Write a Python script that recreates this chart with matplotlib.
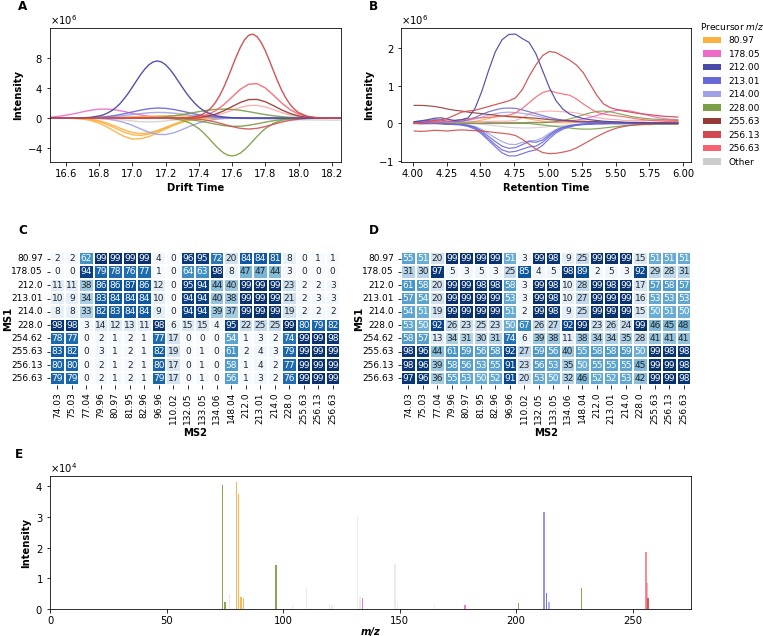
import numpy as np
import matplotlib
matplotlib.use("Agg")
import matplotlib.pyplot as plt
from matplotlib.patches import Patch
import seaborn as sns

# ---------------- data ----------------
precursors = ["80.97", "178.05", "212.00", "213.01", "214.00", "228.00",
              "255.63", "256.13", "256.63", "Other"]
colors = {"80.97": "#fbb040", "178.05": "#ee6cc8", "212.00": "#4a4aa6",
          "213.01": "#6868d8", "214.00": "#a0a0e6", "228.00": "#7a9e45",
          "255.63": "#963a36", "256.13": "#cf4a4e", "256.63": "#f7646f",
          "Other": "#cccccc"}

# Panel A: drift time traces (intensity in 1e6)
A_x = [16.50, 16.55, 16.60, 16.65, 16.70, 16.75, 16.80, 16.85, 16.90, 16.95,
       17.00, 17.05, 17.10, 17.15, 17.20, 17.25, 17.30, 17.35, 17.40, 17.45,
       17.50, 17.55, 17.60, 17.65, 17.70, 17.75, 17.80, 17.85, 17.90, 17.95,
       18.00, 18.05, 18.10, 18.15, 18.20, 18.25]
a_212_x = [16.50, 16.55, 16.60, 16.65, 16.70, 16.75, 16.80, 16.825, 16.85, 16.875, 16.90, 16.925, 16.95,
           16.975, 17.00, 17.025, 17.05, 17.075, 17.10, 17.125, 17.15, 17.175, 17.20, 17.225, 17.25,
           17.275, 17.30, 17.325, 17.35, 17.375, 17.40, 17.425, 17.45, 17.50, 17.55, 17.60, 17.65, 17.70,
           18.25]
a_212 = [0, 0, 0, 0.01, 0.03, 0.10, 0.28, 0.42, 0.66, 0.95, 1.38, 1.88, 2.54, 3.26, 4.08, 4.92, 5.75, 6.47,
         7.05, 7.42, 7.55, 7.42, 7.05, 6.47, 5.75, 4.92, 4.10, 3.30, 2.60, 1.97, 1.45, 1.04, 0.72, 0.32,
         0.13, 0.05, 0.02, 0, 0]
a_25613_x = [16.50, 17.20, 17.25, 17.30, 17.325, 17.35, 17.375, 17.40, 17.425, 17.45, 17.475, 17.50,
             17.525, 17.55, 17.575, 17.60, 17.625, 17.65, 17.675, 17.70, 17.725, 17.75, 17.775, 17.80,
             17.825, 17.85, 17.875, 17.90, 17.925, 17.95, 17.975, 18.00, 18.05, 18.10, 18.15, 18.20, 18.25]
a_25613 = [0, 0, 0.01, 0.02, 0.05, 0.10, 0.18, 0.32, 0.54, 0.88, 1.38, 2.07, 2.96, 4.07, 5.35, 6.73, 8.12,
           9.36, 10.35, 10.95, 11.10, 10.76, 9.99, 8.89, 7.57, 6.17, 4.82, 3.60, 2.58, 1.77, 1.16, 0.73,
           0.25, 0.07, 0.02, 0, 0]
a_228n_x = [16.50, 17.10, 17.15, 17.20, 17.25, 17.30, 17.35, 17.40, 17.425, 17.45, 17.475, 17.50, 17.525,
            17.55, 17.575, 17.60, 17.625, 17.65, 17.675, 17.70, 17.725, 17.75, 17.775, 17.80, 17.85, 17.90,
            17.95, 18.00, 18.05, 18.10, 18.25]
a_228n = [0, 0, -0.01, -0.03, -0.10, -0.28, -0.68, -1.39, -1.88, -2.43, -3.03, -3.63, -4.18, -4.62, -4.90,
          -5.00, -4.90, -4.62, -4.18, -3.63, -3.03, -2.43, -1.88, -1.39, -0.68, -0.28, -0.10, -0.03, -0.01,
          0, 0]
a_25663 = [0, 0, 0, 0, 0, 0, 0, 0, 0, 0, 0, 0, 0, 0, 0, 0, 0.02, 0.07, 0.18, 0.45, 0.96, 1.76, 2.79, 3.81,
           4.48, 4.55, 3.98, 3.00, 1.96, 1.10, 0.53, 0.22, 0.08, 0.02, 0, 0]
a_25563 = [0, 0, 0, 0, 0, 0, 0, 0, 0, 0, 0, 0, 0, 0, 0, 0, 0.01, 0.04, 0.10, 0.25, 0.52, 0.96, 1.52, 2.07,
           2.44, 2.47, 2.16, 1.63, 1.06, 0.60, 0.29, 0.12, 0.04, 0.01, 0, 0]
a_25663b = [0, 0, 0, 0, 0, 0, 0, 0, 0, 0, 0, 0, 0, 0, 0, 0, 0.01, 0.02, 0.07, 0.17, 0.36, 0.65, 1.03, 1.41,
            1.66, 1.68, 1.47, 1.11, 0.72, 0.41, 0.20, 0.08, 0.03, 0.01, 0, 0]
a_25613n = [0, 0, 0, 0, 0, 0, 0, 0, 0, 0, 0, 0, 0, 0, 0, 0, -0.02, -0.06, -0.15, -0.29, -0.52, -0.82, -1.12,
            -1.36, -1.45, -1.36, -1.12, -0.82, -0.52, -0.29, -0.15, -0.06, -0.02, 0, 0, 0]
a_228p = [0, 0, 0, 0, 0, 0, 0, 0, 0, 0, 0.01, 0.03, 0.05, 0.10, 0.18, 0.30, 0.46, 0.65, 0.85, 1.03, 1.15,
          1.20, 1.15, 1.03, 0.85, 0.65, 0.46, 0.30, 0.18, 0.10, 0.05, 0.03, 0.01, 0, 0, 0]
a_228n2 = [0, 0, 0, 0, 0, 0, 0, 0, 0, 0, 0, 0, 0, -0.01, -0.02, -0.05, -0.11, -0.22, -0.38, -0.58, -0.80,
           -0.99, -1.09, -1.08, -0.95, -0.76, -0.54, -0.34, -0.19, -0.10, -0.04, -0.02, -0.01, 0, 0, 0]
a_8097a = [0, 0, -0.02, -0.05, -0.13, -0.32, -0.67, -1.19, -1.83, -2.42, -2.77, -2.73, -2.45, -1.95, -1.45,
           -0.95, -0.55, -0.27, -0.10, -0.03, 0, 0, 0, 0, 0, 0, 0, 0, 0, 0, 0, 0, 0, 0, 0, 0]
a_8097b = [0, 0, -0.01, -0.03, -0.08, -0.20, -0.45, -0.85, -1.35, -1.85, -2.20, -2.30, -2.12, -1.75, -1.30,
           -0.85, -0.48, -0.22, -0.08, -0.02, 0, 0, 0, 0, 0, 0, 0, 0, 0, 0, 0, 0, 0, 0, 0, 0]
a_8097c = [0, 0, -0.01, -0.02, -0.06, -0.15, -0.35, -0.68, -1.10, -1.55, -1.90, -2.05, -1.95, -1.65, -1.25,
           -0.82, -0.45, -0.20, -0.07, -0.02, 0, 0, 0, 0, 0, 0, 0, 0, 0, 0, 0, 0, 0, 0, 0, 0]
a_8097p = [0, 0, 0, 0, 0, 0, 0.02, 0.05, 0.08, 0.12, 0.17, 0.21, 0.25, 0.28, 0.30, 0.31, 0.30, 0.27, 0.22,
           0.17, 0.12, 0.08, 0.05, 0.03, 0.01, 0, 0, 0, 0, 0, 0, 0, 0, 0, 0, 0]
a_214n = [0, 0, 0, 0, 0, -0.02, -0.06, -0.14, -0.30, -0.57, -0.96, -1.43, -1.87, -2.15, -2.18, -1.94, -1.52,
          -1.05, -0.64, -0.34, -0.16, -0.07, -0.03, -0.01, 0, 0, 0, 0, 0, 0, 0, 0, 0, 0, 0, 0]
a_213p = [0, 0, 0, 0, 0.02, 0.05, 0.11, 0.20, 0.36, 0.56, 0.81, 1.05, 1.24, 1.33, 1.29, 1.14, 0.91, 0.66,
          0.43, 0.26, 0.14, 0.07, 0.03, 0.01, 0, 0, 0, 0, 0, 0, 0, 0, 0, 0, 0, 0]
a_214p = [0, 0, 0, 0, 0.01, 0.03, 0.06, 0.11, 0.20, 0.32, 0.46, 0.59, 0.70, 0.75, 0.73, 0.64, 0.51, 0.37,
          0.24, 0.15, 0.08, 0.04, 0.02, 0.01, 0, 0, 0, 0, 0, 0, 0, 0, 0, 0, 0, 0]
a_178 = [0.11, 0.21, 0.37, 0.58, 0.82, 1.04, 1.18, 1.19, 1.08, 0.87, 0.63, 0.41, 0.24, 0.12, 0.06, 0.02,
         0.01, 0, 0, 0, 0, 0, 0, 0, 0, 0, 0, 0, 0, 0, 0, 0, 0, 0, 0, 0]
a_oth1 = [0, 0, 0, 0, 0, 0, -0.02, -0.06, -0.14, -0.25, -0.38, -0.48, -0.52, -0.48, -0.38, -0.26, -0.15,
          -0.08, -0.03, 0, 0, 0, 0, 0, 0, 0, 0, 0, 0, 0, 0, 0, 0, 0, 0, 0]
a_oth2 = [0, 0, 0, 0, 0, 0, 0, 0, 0, 0, 0, 0, 0, 0, 0, 0, 0, 0, 0, 0, 0, 0, -0.02, -0.05, -0.08, -0.11,
          -0.14, -0.17, -0.19, -0.21, -0.23, -0.24, -0.25, -0.26, -0.27, -0.27]

# Panel B: retention time traces (intensity in 1e6)
B_x = [4.01, 4.06, 4.11, 4.16, 4.21, 4.26, 4.31, 4.36, 4.41, 4.46, 4.51, 4.56, 4.61, 4.66, 4.71, 4.76,
       4.81, 4.86, 4.91, 4.96, 5.01, 5.06, 5.11, 5.16, 5.21, 5.26, 5.31, 5.36, 5.41, 5.46, 5.51, 5.56,
       5.61, 5.66, 5.71, 5.76, 5.81, 5.86, 5.91, 5.96]
b_212 = [0.05, 0.07, 0.10, 0.14, 0.15, 0.11, 0.08, 0.10, 0.15, 0.40, 0.85, 1.40, 1.90, 2.22, 2.36, 2.37,
         2.25, 2.15, 1.85, 1.40, 0.95, 0.60, 0.38, 0.25, 0.18, 0.13, 0.10, 0.08, 0.06, 0.05, 0.04, 0.03,
         0.02, 0.02, 0.01, 0.01, 0.0, 0.0, 0.0, 0.0]
b_25613 = [0.02, 0.02, 0.05, 0.08, 0.10, 0.14, 0.22, 0.30, 0.33, 0.35, 0.40, 0.45, 0.50, 0.55, 0.60, 0.68,
           0.90, 1.25, 1.55, 1.80, 1.91, 1.88, 1.78, 1.68, 1.55, 1.35, 1.05, 0.75, 0.52, 0.42, 0.37, 0.33,
           0.30, 0.27, 0.25, 0.23, 0.21, 0.19, 0.18, 0.17]
b_25663 = [0.0, 0.02, 0.03, 0.05, 0.05, 0.06, 0.08, 0.10, 0.12, 0.14, 0.15, 0.16, 0.18, 0.20, 0.22, 0.28,
           0.40, 0.55, 0.70, 0.82, 0.87, 0.82, 0.78, 0.75, 0.65, 0.52, 0.40, 0.30, 0.25, 0.22, 0.20, 0.18,
           0.15, 0.12, 0.10, 0.08, 0.07, 0.06, 0.05, 0.05]
b_25563 = [0.48, 0.48, 0.47, 0.45, 0.42, 0.38, 0.35, 0.33, 0.30, 0.28, 0.26, 0.24, 0.22, 0.20, 0.18, 0.17,
           0.16, 0.15, 0.14, 0.12, 0.10, 0.09, 0.08, 0.07, 0.06, 0.06, 0.05, 0.05, 0.04, 0.04, 0.04, 0.03,
           0.03, 0.03, 0.03, 0.02, 0.02, 0.02, 0.02, 0.02]
b_25613n = [-0.20, -0.21, -0.20, -0.18, -0.19, -0.20, -0.18, -0.17, -0.18, -0.19, -0.20, -0.22, -0.24,
            -0.26, -0.28, -0.32, -0.42, -0.55, -0.68, -0.77, -0.80, -0.79, -0.76, -0.72, -0.65, -0.55,
            -0.45, -0.35, -0.26, -0.18, -0.12, -0.08, -0.05, -0.03, -0.02, -0.01, 0.0, 0.0, 0.01, 0.01]
b_213n1 = [0.0, -0.01, 0.0, 0.01, 0.0, -0.02, -0.03, -0.04, -0.08, -0.15, -0.28, -0.45, -0.62, -0.78, -0.86,
           -0.86, -0.80, -0.74, -0.70, -0.58, -0.40, -0.25, -0.15, -0.09, -0.05, -0.03, -0.02, -0.01, -0.01,
           0.0, 0.0, 0.0, 0.0, 0.0, 0.0, 0.0, 0.0, 0.0, 0.0, 0.0]
b_213n2 = [0.02, 0.01, 0.0, 0.0, -0.01, -0.02, -0.02, -0.03, -0.06, -0.12, -0.24, -0.40, -0.56, -0.70, -0.76,
           -0.74, -0.68, -0.62, -0.60, -0.50, -0.34, -0.21, -0.12, -0.07, -0.04, -0.02, -0.01, 0.0, 0.0,
           0.0, 0.0, 0.0, 0.0, 0.0, 0.0, 0.0, 0.0, 0.0, 0.0, 0.0]
b_212n = [0.01, 0.01, 0.0, 0.0, 0.0, -0.01, -0.02, -0.03, -0.05, -0.10, -0.20, -0.34, -0.48, -0.60, -0.66,
          -0.64, -0.56, -0.48, -0.50, -0.44, -0.30, -0.18, -0.10, -0.06, -0.03, -0.02, -0.01, 0.0, 0.0,
          0.0, 0.0, 0.0, 0.0, 0.0, 0.0, 0.0, 0.0, 0.0, 0.0, 0.0]
b_214n = [0.0, 0.0, 0.0, 0.0, 0.0, -0.01, -0.01, -0.02, -0.04, -0.08, -0.16, -0.27, -0.38, -0.48, -0.55,
          -0.56, -0.50, -0.46, -0.45, -0.38, -0.26, -0.16, -0.09, -0.05, -0.03, -0.01, 0.0, 0.0, 0.0, 0.0,
          0.0, 0.0, 0.0, 0.0, 0.0, 0.0, 0.0, 0.0, 0.0, 0.0]
b_213p = [0.04, 0.06, 0.08, 0.10, 0.09, 0.06, 0.05, 0.06, 0.10, 0.16, 0.24, 0.31, 0.36, 0.40, 0.41, 0.40,
          0.36, 0.31, 0.26, 0.21, 0.16, 0.12, 0.09, 0.07, 0.05, 0.04, 0.03, 0.03, 0.02, 0.02, 0.01, 0.01,
          0.01, 0.01, 0.01, 0.01, 0.01, 0.01, 0.01, 0.01]
b_214p = [0.03, 0.04, 0.05, 0.06, 0.06, 0.05, 0.05, 0.06, 0.08, 0.12, 0.17, 0.22, 0.26, 0.29, 0.30, 0.29,
          0.27, 0.24, 0.20, 0.16, 0.12, 0.09, 0.07, 0.05, 0.04, 0.03, 0.02, 0.02, 0.02, 0.02, 0.02, 0.02,
          0.02, 0.02, 0.02, 0.02, 0.02, 0.02, 0.02, 0.02]
b_228p = [0.0, 0.01, 0.01, 0.02, 0.02, 0.01, 0.01, 0.01, 0.0, 0.0, 0.0, 0.01, 0.01, 0.01, 0.01, 0.02, 0.02,
          0.02, 0.02, 0.02, 0.03, 0.05, 0.08, 0.12, 0.17, 0.23, 0.28, 0.32, 0.33, 0.31, 0.27, 0.23, 0.19,
          0.16, 0.14, 0.12, 0.11, 0.10, 0.09, 0.08]
b_228n = [0.0, 0.0, 0.0, 0.0, 0.0, 0.0, 0.0, 0.0, 0.0, 0.0, 0.0, 0.0, 0.0, 0.0, 0.0, 0.0, 0.0, 0.0, -0.02,
          -0.04, -0.06, -0.08, -0.10, -0.12, -0.14, -0.15, -0.15, -0.14, -0.12, -0.10, -0.08, -0.06, -0.05,
          -0.04, -0.03, -0.03, -0.02, -0.02, -0.02, -0.02]
b_178 = [0.01, 0.01, 0.02, 0.02, 0.01, 0.01, 0.0, 0.0, 0.01, 0.01, 0.01, 0.02, 0.02, 0.02, 0.02, 0.02, 0.02,
         0.03, 0.03, 0.03, 0.03, 0.04, 0.05, 0.07, 0.09, 0.12, 0.16, 0.21, 0.27, 0.32, 0.35, 0.35, 0.33,
         0.29, 0.24, 0.20, 0.16, 0.13, 0.11, 0.10]
b_8097 = [0.02, 0.02, 0.02, 0.02, 0.02, 0.02, 0.02, 0.02, 0.02, 0.05, 0.09, 0.13, 0.17, 0.19, 0.20, 0.19,
          0.16, 0.12, 0.09, 0.06, 0.04, 0.02, 0.02, 0.02, 0.02, 0.02, 0.02, 0.02, 0.02, 0.02, 0.02, 0.02,
          0.02, 0.02, 0.02, 0.02, 0.02, 0.02, 0.02, 0.02]
b_25663l = [0.02, 0.02, 0.03, 0.03, 0.03, 0.04, 0.04, 0.04, 0.05, 0.05, 0.05, 0.05, 0.06, 0.06, 0.06, 0.08,
            0.15, 0.25, 0.30, 0.32, 0.33, 0.32, 0.31, 0.30, 0.28, 0.24, 0.20, 0.16, 0.13, 0.11, 0.10, 0.08,
            0.08, 0.08, 0.08, 0.08, 0.08, 0.08, 0.08, 0.08]
b_oth = [0.0, 0.0, 0.0, 0.0, 0.0, 0.0, 0.0, 0.0, 0.0, 0.0, -0.02, -0.04, -0.06, -0.08, -0.10, -0.11, -0.12,
         -0.12, -0.11, -0.10, -0.08, -0.06, -0.05, -0.04, -0.03, -0.02, -0.02, -0.02, -0.02, -0.02, -0.02,
         -0.02, -0.02, -0.02, -0.02, -0.02, -0.02, -0.02, -0.02, -0.02]

# Panels C / D: heatmaps
MS1_labels = ["80.97", "178.05", "212.0", "213.01", "214.0", "228.0", "254.62", "255.63", "256.13", "256.63"]
MS2_labels = ["74.03", "75.03", "77.04", "79.96", "80.97", "81.95", "82.96", "96.96", "110.02", "132.05",
              "133.05", "134.06", "148.04", "212.0", "213.01", "214.0", "228.0", "255.63", "256.13", "256.63"]
C_vals = [
    [2, 2, 62, 99, 99, 99, 99, 4, 0, 96, 95, 72, 20, 84, 84, 81, 8, 0, 1, 1],
    [0, 0, 94, 79, 78, 76, 77, 1, 0, 64, 63, 98, 8, 47, 47, 44, 3, 0, 0, 0],
    [11, 11, 38, 86, 86, 87, 86, 12, 0, 95, 94, 44, 40, 99, 99, 99, 23, 2, 2, 3],
    [10, 9, 34, 83, 84, 84, 84, 10, 0, 94, 94, 40, 38, 99, 99, 99, 21, 2, 3, 3],
    [8, 8, 33, 82, 83, 84, 84, 9, 0, 94, 94, 39, 37, 99, 99, 99, 19, 2, 2, 2],
    [98, 98, 3, 14, 12, 13, 11, 98, 6, 15, 15, 4, 95, 22, 25, 25, 99, 80, 79, 82],
    [78, 77, 0, 2, 1, 2, 1, 77, 17, 0, 0, 0, 54, 1, 3, 2, 74, 99, 99, 98],
    [83, 82, 0, 3, 1, 2, 1, 82, 19, 0, 1, 0, 61, 2, 4, 3, 79, 99, 99, 99],
    [80, 80, 0, 2, 1, 2, 1, 80, 17, 0, 1, 0, 58, 1, 4, 2, 77, 99, 99, 99],
    [79, 79, 0, 2, 1, 2, 1, 79, 17, 0, 1, 0, 56, 1, 3, 2, 76, 99, 99, 99],
]
D_vals = [
    [55, 51, 20, 99, 99, 99, 99, 51, 3, 99, 98, 9, 25, 99, 99, 99, 15, 51, 51, 51],
    [31, 30, 97, 5, 3, 5, 3, 25, 85, 4, 5, 98, 89, 2, 5, 3, 92, 29, 28, 31],
    [61, 58, 20, 99, 99, 98, 98, 58, 3, 99, 98, 10, 28, 99, 98, 99, 17, 57, 58, 57],
    [57, 54, 20, 99, 99, 99, 99, 53, 3, 99, 98, 10, 27, 99, 99, 99, 16, 53, 53, 53],
    [54, 51, 19, 99, 99, 99, 99, 51, 2, 99, 98, 9, 25, 99, 99, 99, 15, 50, 51, 50],
    [53, 50, 92, 26, 23, 25, 23, 50, 67, 26, 27, 92, 99, 23, 26, 24, 99, 46, 45, 48],
    [58, 57, 13, 34, 31, 30, 31, 74, 6, 39, 38, 11, 38, 34, 34, 35, 28, 41, 41, 41],
    [98, 96, 44, 61, 59, 56, 58, 92, 27, 59, 56, 40, 55, 58, 58, 59, 50, 99, 98, 98],
    [98, 96, 39, 58, 56, 53, 55, 91, 23, 56, 53, 35, 50, 55, 55, 55, 45, 99, 99, 98],
    [97, 96, 36, 55, 53, 50, 52, 91, 20, 53, 50, 32, 46, 52, 52, 53, 42, 99, 99, 98],
]

# Panel E: fragment spectrum (intensity in 1e4)
E_mz = [74.03, 75.03, 77.04, 79.96, 80.97, 81.95, 82.96, 96.96, 104.0, 110.02, 120.0, 121.0, 132.05,
        133.05, 134.06, 148.04, 149.0, 165.0, 178.05, 201.0, 212.0, 213.01, 214.0, 228.0, 255.63,
        256.13, 256.63]
E_int = [4.03, 0.24, 0.48, 4.13, 3.75, 0.40, 0.37, 1.43, 0.13, 0.70, 0.15, 0.12, 3.05, 0.40, 0.35, 1.48,
         0.20, 0.13, 0.13, 0.20, 3.16, 0.51, 0.24, 0.67, 1.85, 0.85, 0.35]
E_grp = ["228.00", "228.00", "Other", "80.97", "80.97", "80.97", "80.97", "228.00", "Other", "Other",
         "Other", "Other", "Other", "Other", "178.05", "Other", "Other", "Other", "178.05", "228.00",
         "213.01", "213.01", "214.00", "228.00", "256.63", "256.63", "256.13"]
E_alpha = [0.9, 0.9, 0.4, 0.9, 0.9, 0.9, 0.9, 0.9, 0.4, 0.4, 0.4, 0.4, 0.35, 0.4, 0.9, 0.4, 0.4, 0.4,
           0.9, 0.9, 0.7, 0.9, 0.8, 0.9, 0.75, 0.5, 0.9]

# ---------------- figure ----------------
W, H, DPI = 763, 636, 72
fig = plt.figure(figsize=(W / DPI, H / DPI), dpi=DPI)


def rect(x0, y0, x1, y1):
    return [x0 / W, 1 - y1 / H, (x1 - x0) / W, (y1 - y0) / H]


axA = fig.add_axes(rect(50, 28, 341, 162))
axB = fig.add_axes(rect(401, 28, 691, 162))
axC = fig.add_axes(rect(50, 252, 340, 385))
axD = fig.add_axes(rect(401, 252, 691, 385))
axE = fig.add_axes(rect(50, 476, 691, 609))

LW = 1.4
A_series = [
    (A_x, a_oth1, "Other", 0.8), (A_x, a_oth2, "Other", 0.8),
    (A_x, a_178, "178.05", 0.9),
    (A_x, a_8097p, "80.97", 0.9), (A_x, a_8097c, "80.97", 0.9), (A_x, a_8097b, "80.97", 0.9),
    (A_x, a_8097a, "80.97", 0.9),
    (A_x, a_214p, "214.00", 0.9), (A_x, a_214n, "214.00", 0.9), (A_x, a_213p, "213.01", 0.9),
    (A_x, a_228p, "228.00", 0.9), (A_x, a_228n2, "228.00", 0.9), (a_228n_x, a_228n, "228.00", 0.9),
    (A_x, a_25613n, "256.13", 0.85), (A_x, a_25663b, "256.63", 0.5), (A_x, a_25563, "255.63", 0.9),
    (A_x, a_25663, "256.63", 0.9), (a_212_x, a_212, "212.00", 0.95), (a_25613_x, a_25613, "256.13", 0.95),
]
for xs, vals, key, al in A_series:
    axA.plot(xs, np.array(vals) * 1e6, color=colors[key], lw=LW, alpha=al)

B_series = [
    (b_oth, "Other", 0.8), (b_8097, "80.97", 0.9), (b_178, "178.05", 0.9),
    (b_228p, "228.00", 0.9), (b_228n, "228.00", 0.9),
    (b_214p, "214.00", 0.9), (b_213p, "213.01", 0.9),
    (b_214n, "214.00", 0.9), (b_212n, "213.01", 0.9), (b_213n2, "213.01", 0.9), (b_213n1, "213.01", 0.9),
    (b_25663l, "256.63", 0.5), (b_25563, "255.63", 0.9), (b_25613n, "256.13", 0.9),
    (b_25663, "256.63", 0.9), (b_212, "212.00", 0.95), (b_25613, "256.13", 0.95),
]
for vals, key, al in B_series:
    axB.plot(B_x, np.array(vals) * 1e6, color=colors[key], lw=1.2, alpha=al)

axA.set_xlim(16.505, 18.255)
axA.set_xticks([16.6, 16.8, 17.0, 17.2, 17.4, 17.6, 17.8, 18.0, 18.2])
axA.set_yticks([-4e6, 0, 4e6, 8e6])
for ax in (axA, axB):
    ax.ticklabel_format(axis="y", style="sci", scilimits=(6, 6), useMathText=True)
    ax.set_ylabel("Intensity", fontweight="bold")
axA.set_xlabel("Drift Time", fontweight="bold")
axB.set_xlabel("Retention Time", fontweight="bold")
axB.set_xticks([4.0, 4.25, 4.5, 4.75, 5.0, 5.25, 5.5, 5.75, 6.0])
axB.set_yticks([-1e6, 0, 1e6, 2e6])

handles = [Patch(facecolor=colors[p], label=p) for p in precursors]
fig.legend(handles=handles, loc="upper left", bbox_to_anchor=(696 / W, 1 - 17 / H),
           frameon=False, title=r"Precursor $m/z$", fontsize=9, title_fontsize=9,
           labelspacing=0.5, borderaxespad=0)

for ax, vals in ((axC, C_vals), (axD, D_vals)):
    sns.heatmap(np.array(vals), ax=ax, cmap="Blues", vmin=0, vmax=100, annot=True, fmt="d",
                annot_kws={"size": 9}, cbar=False, linewidths=0.3, linecolor="white",
                xticklabels=MS2_labels, yticklabels=MS1_labels)
    ax.set_yticklabels(MS1_labels, rotation=0, fontsize=9)
    ax.set_xticklabels(MS2_labels, rotation=90, fontsize=9)
    ax.set_ylabel("MS1", fontweight="bold")
    ax.set_xlabel("MS2", fontweight="bold")
    ax.yaxis.set_label_coords(-0.128, 0.5)

for mz, inten, grp, al in zip(E_mz, E_int, E_grp, E_alpha):
    axE.bar(mz, inten * 1e4, width=0.6, color=colors[grp], alpha=al, linewidth=0)
axE.set_xlim(0, 275)
axE.ticklabel_format(axis="y", style="sci", scilimits=(4, 4), useMathText=True)
axE.set_ylabel("Intensity", fontweight="bold")
axE.set_xlabel("m/z", fontweight="bold", fontstyle="italic", labelpad=1)

for lab, x, y in (("A", 18, 7), ("B", 369, 7), ("C", 18, 230), ("D", 369, 230), ("E", 15, 454)):
    fig.text(x / W, 1 - y / H, lab, fontsize=12, fontweight="bold", va="center", ha="left")

fig.savefig("out.png", dpi=DPI)
